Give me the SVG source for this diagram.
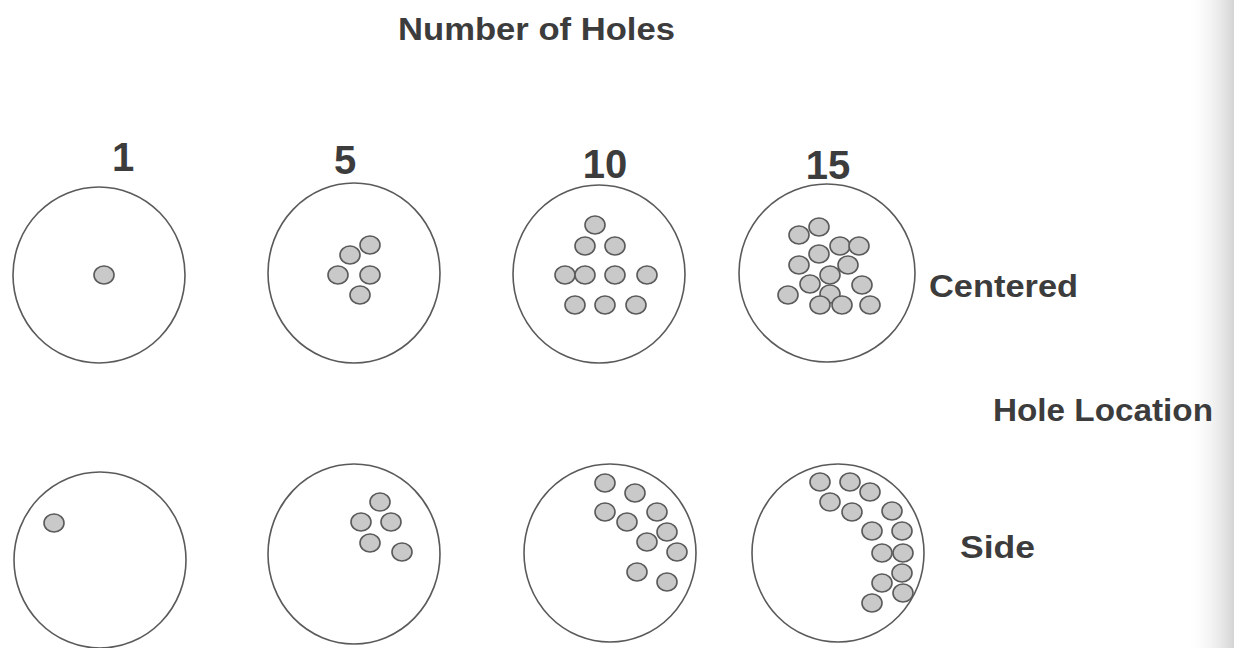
<svg xmlns="http://www.w3.org/2000/svg" width="1234" height="648" viewBox="0 0 1234 648">
<style>
.disk{fill:none;stroke:#5a5a5a;stroke-width:1.6}
.hole{fill:#c9c9c9;stroke:#5a5a5a;stroke-width:1.6}
.lbl{font-family:"Liberation Sans",Arial,sans-serif;font-weight:bold;fill:#3c3c3c}
.num{font-family:"Liberation Sans",Arial,sans-serif;font-weight:bold;fill:#3c3c3c;font-size:40px;text-anchor:middle}
</style>
<defs>
<linearGradient id="edge" x1="0" y1="0" x2="1" y2="0">
<stop offset="0" stop-color="#ffffff" stop-opacity="0"/>
<stop offset="1" stop-color="#d4d4d4"/>
</linearGradient>
</defs>
<rect width="1234" height="648" fill="#ffffff"/>
<rect x="1185" y="0" width="49" height="648" fill="url(#edge)"/>

<g id="labels">
<text class="lbl" x="398" y="40" font-size="32" textLength="277" lengthAdjust="spacingAndGlyphs">Number of Holes</text>
<text class="num" x="123" y="171">1</text>
<text class="num" x="345" y="174">5</text>
<text class="num" x="605" y="178">10</text>
<text class="num" x="828" y="179">15</text>
<text class="lbl" x="929" y="297" font-size="31" textLength="149" lengthAdjust="spacingAndGlyphs">Centered</text>
<text class="lbl" x="993" y="421" font-size="31" textLength="220" lengthAdjust="spacingAndGlyphs">Hole Location</text>
<text class="lbl" x="960" y="558" font-size="31" textLength="75" lengthAdjust="spacingAndGlyphs">Side</text>
</g>

<g id="centered-1">
<ellipse class="disk" cx="99" cy="275" rx="86" ry="88"/>
<ellipse class="hole" cx="104" cy="275" rx="10" ry="9"/>
</g>

<g id="centered-5">
<ellipse class="disk" cx="354" cy="273" rx="86" ry="90"/>
<ellipse class="hole" cx="370" cy="245" rx="10" ry="9"/>
<ellipse class="hole" cx="350" cy="255" rx="10" ry="9"/>
<ellipse class="hole" cx="338" cy="275" rx="10" ry="9"/>
<ellipse class="hole" cx="370" cy="275" rx="10" ry="9"/>
<ellipse class="hole" cx="360" cy="295" rx="10" ry="9"/>
</g>

<g id="centered-10">
<ellipse class="disk" cx="599" cy="274" rx="86" ry="89"/>
<ellipse class="hole" cx="595" cy="225" rx="10" ry="9"/>
<ellipse class="hole" cx="585" cy="246" rx="10" ry="9"/>
<ellipse class="hole" cx="615" cy="246" rx="10" ry="9"/>
<ellipse class="hole" cx="565" cy="275" rx="10" ry="9"/>
<ellipse class="hole" cx="585" cy="275" rx="10" ry="9"/>
<ellipse class="hole" cx="615" cy="275" rx="10" ry="9"/>
<ellipse class="hole" cx="647" cy="275" rx="10" ry="9"/>
<ellipse class="hole" cx="575" cy="305" rx="10" ry="9"/>
<ellipse class="hole" cx="605" cy="305" rx="10" ry="9"/>
<ellipse class="hole" cx="636" cy="305" rx="10" ry="9"/>
</g>

<g id="centered-15">
<ellipse class="disk" cx="827" cy="273" rx="88" ry="89"/>
<ellipse class="hole" cx="819" cy="227" rx="10" ry="9"/>
<ellipse class="hole" cx="799" cy="235" rx="10" ry="9"/>
<ellipse class="hole" cx="840" cy="246" rx="10" ry="9"/>
<ellipse class="hole" cx="859" cy="246" rx="10" ry="9"/>
<ellipse class="hole" cx="819" cy="254" rx="10" ry="9"/>
<ellipse class="hole" cx="799" cy="265" rx="10" ry="9"/>
<ellipse class="hole" cx="848" cy="265" rx="10" ry="9"/>
<ellipse class="hole" cx="830" cy="275" rx="10" ry="9"/>
<ellipse class="hole" cx="810" cy="284" rx="10" ry="9"/>
<ellipse class="hole" cx="862" cy="285" rx="10" ry="9"/>
<ellipse class="hole" cx="788" cy="295" rx="10" ry="9"/>
<ellipse class="hole" cx="830" cy="294" rx="10" ry="9"/>
<ellipse class="hole" cx="820" cy="305" rx="10" ry="9"/>
<ellipse class="hole" cx="842" cy="305" rx="10" ry="9"/>
<ellipse class="hole" cx="870" cy="305" rx="10" ry="9"/>
</g>

<g id="side-1">
<ellipse class="disk" cx="100" cy="560" rx="86" ry="88"/>
<ellipse class="hole" cx="54" cy="523" rx="10" ry="9"/>
</g>

<g id="side-5">
<ellipse class="disk" cx="354" cy="554" rx="86" ry="90"/>
<ellipse class="hole" cx="380" cy="502" rx="10" ry="9"/>
<ellipse class="hole" cx="361" cy="522" rx="10" ry="9"/>
<ellipse class="hole" cx="391" cy="522" rx="10" ry="9"/>
<ellipse class="hole" cx="370" cy="543" rx="10" ry="9"/>
<ellipse class="hole" cx="402" cy="552" rx="10" ry="9"/>
</g>

<g id="side-10">
<ellipse class="disk" cx="610" cy="553" rx="86" ry="89"/>
<ellipse class="hole" cx="605" cy="483" rx="10" ry="9"/>
<ellipse class="hole" cx="635" cy="493" rx="10" ry="9"/>
<ellipse class="hole" cx="605" cy="512" rx="10" ry="9"/>
<ellipse class="hole" cx="627" cy="522" rx="10" ry="9"/>
<ellipse class="hole" cx="657" cy="512" rx="10" ry="9"/>
<ellipse class="hole" cx="667" cy="532" rx="10" ry="9"/>
<ellipse class="hole" cx="647" cy="542" rx="10" ry="9"/>
<ellipse class="hole" cx="677" cy="552" rx="10" ry="9"/>
<ellipse class="hole" cx="637" cy="572" rx="10" ry="9"/>
<ellipse class="hole" cx="667" cy="582" rx="10" ry="9"/>
</g>

<g id="side-15">
<ellipse class="disk" cx="838" cy="553" rx="86" ry="89"/>
<ellipse class="hole" cx="820" cy="482" rx="10" ry="9"/>
<ellipse class="hole" cx="850" cy="482" rx="10" ry="9"/>
<ellipse class="hole" cx="870" cy="492" rx="10" ry="9"/>
<ellipse class="hole" cx="830" cy="502" rx="10" ry="9"/>
<ellipse class="hole" cx="852" cy="512" rx="10" ry="9"/>
<ellipse class="hole" cx="892" cy="511" rx="10" ry="9"/>
<ellipse class="hole" cx="872" cy="531" rx="10" ry="9"/>
<ellipse class="hole" cx="902" cy="531" rx="10" ry="9"/>
<ellipse class="hole" cx="882" cy="553" rx="10" ry="9"/>
<ellipse class="hole" cx="903" cy="553" rx="10" ry="9"/>
<ellipse class="hole" cx="902" cy="573" rx="10" ry="9"/>
<ellipse class="hole" cx="882" cy="583" rx="10" ry="9"/>
<ellipse class="hole" cx="903" cy="593" rx="10" ry="9"/>
<ellipse class="hole" cx="872" cy="603" rx="10" ry="9"/>
</g>

<g id="connectors"></g>
</svg>
